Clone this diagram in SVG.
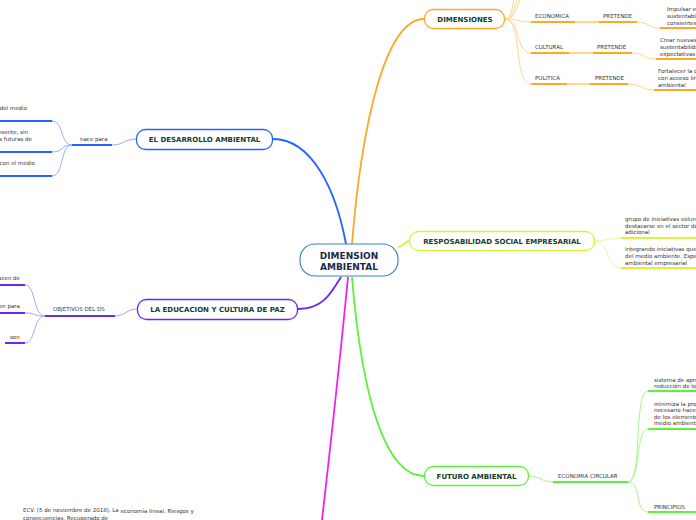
<svg xmlns="http://www.w3.org/2000/svg" width="696" height="520" viewBox="0 0 696 520">
<style>
.t{font-family:"DejaVu Sans","Verdana",sans-serif;font-size:5.5px;fill:#333}
.n{font-family:"DejaVu Sans","Verdana",sans-serif;font-size:7px;font-weight:bold;fill:#123d31;text-anchor:middle}
.c{font-family:"DejaVu Sans","Verdana",sans-serif;font-size:9px;font-weight:bold;fill:#1b2a4a;text-anchor:middle}
path{fill:none}
.o{stroke:#ffa726}.ol{stroke:#ffd58f}
.b{stroke:#2962ff}.bl{stroke:#8fb0ff}
.p{stroke:#6a28f0}.pl{stroke:#b69cff}
.y{stroke:#d6f53a}.yl{stroke:#ebfa9a}
.g{stroke:#5cf23a}.gl{stroke:#a9f58d}
.m{stroke:#ee22ee}
.u{stroke-width:2}.l{stroke-width:1}.k{stroke-width:1.8}
</style>
<rect width="696" height="520" fill="#fff"/>
<g id="connectors">
  <path class="b k" d="M273,139 C312,139 336,190 346,244"/>
  <path class="o k" d="M352,244 C362,120 386,19 424,19"/>
  <path class="p k" d="M298,309 C322,309 330,295 341,277"/>
  <path class="m k" d="M348,277 C340,360 330,450 322,520"/>
  <path class="g k" d="M352,277 C362,400 386,476 424,476"/>
  <path class="y k" d="M398,247 C403,247 404,241 410,241"/>
  <path class="ol l" d="M505,19 C511,19 512,8 514,0"/>
  <path class="ol l" d="M505,19 C513,19 514,8 517,0"/>
  <path class="ol l" d="M505,19 C515,19 516,8 520,0"/>
  <path class="ol l" d="M505,19 C518,19 518,22 531,22"/>
  <path class="ol l" d="M505,19 C521,19 515,53 531,53"/>
  <path class="ol l" d="M505,19 C523,19 513,84 531,84"/>
  <path class="o u" d="M531,22 H575"/><path class="ol u" d="M575,22 H599"/><path class="o u" d="M599,22 H637"/>
  <path class="ol l" d="M637,22 C650,22 647,28 660,28"/><path class="o u" d="M660,28 H696"/>
  <path class="o u" d="M531,53 H569"/><path class="ol u" d="M569,53 H593"/><path class="o u" d="M593,53 H632"/>
  <path class="ol l" d="M632,53 C645,53 643,59 656,59"/><path class="o u" d="M656,59 H696"/>
  <path class="o u" d="M531,84 H567"/><path class="ol u" d="M567,84 H590"/><path class="o u" d="M590,84 H628"/>
  <path class="ol l" d="M628,84 C641,84 641,90 654,90"/><path class="o u" d="M654,90 H696"/>
  <path class="bl l" d="M137,139 C124,139 124,145 112,145"/>
  <path class="b u" d="M72,145 H112"/>
  <path class="bl l" d="M72,145 C60,145 64,121 52,121"/>
  <path class="bl l" d="M72,145 C60,145 64,152 52,152"/>
  <path class="bl l" d="M72,145 C60,145 64,176 52,176"/>
  <path class="b u" d="M0,121 H52"/><path class="b u" d="M0,152 H52"/><path class="b u" d="M0,176 H52"/>
  <path class="pl l" d="M137,309 C126,309 126,316 115,316"/>
  <path class="p u" d="M45,316 H115"/>
  <path class="pl l" d="M45,316 C33,316 36,285 25,285"/>
  <path class="pl l" d="M45,316 C33,316 36,313 25,313"/>
  <path class="pl l" d="M45,316 C33,316 36,343 25,343"/>
  <path class="p u" d="M0,285 H25"/><path class="p u" d="M0,313 H25"/><path class="p u" d="M5,343 H25"/>
  <path class="yl l" d="M594,241 C607,241 608,238 621,238"/>
  <path class="yl l" d="M594,241 C610,241 606,268 621,268"/>
  <path class="y u" d="M621,238 H696"/><path class="y u" d="M621,268 H696"/>
  <path class="gl l" d="M529,476 C541,476 541,482 553,482"/>
  <path class="g u" d="M553,482 H628"/>
  <path class="gl l" d="M628,482 C643,482 633,391 648,391"/>
  <path class="gl l" d="M628,482 C641,482 635,429 648,429"/>
  <path class="gl l" d="M628,482 C642,482 634,512 648,512"/>
  <path class="g u" d="M648,391 H696"/><path class="g u" d="M648,429 H696"/><path class="g u" d="M648,512 H696"/>
</g>
<g id="central">
  <rect x="300" y="244" width="98" height="32" rx="15" fill="#fff" stroke="#3a86c8" stroke-width="1.2"/>
  <text class="c" x="349" y="259">DIMENSION</text>
  <text class="c" x="349" y="270">AMBIENTAL</text>
</g>
<g id="dimensiones">
  <rect x="424.5" y="9.5" width="80" height="19" rx="9" fill="#fff" stroke="#ffa726" stroke-width="1.3"/>
  <text class="n" x="465" y="21.5">DIMENSIONES</text>
</g>
<g id="economica"><text class="t" x="535" y="18">ECONOMICA</text></g>
<g id="economica-pretende"><text class="t" x="603" y="18">PRETENDE</text></g>
<g id="economica-texto">
  <text class="t" x="667" y="11">Impulsar el</text>
  <text class="t" x="667" y="18">sustentable</text>
  <text class="t" x="667" y="24.5">consientes</text>
</g>
<g id="cultural"><text class="t" x="535" y="49">CULTURAL</text></g>
<g id="cultural-pretende"><text class="t" x="597" y="49">PRETENDE</text></g>
<g id="cultural-texto">
  <text class="t" x="660" y="42">Crear nuevas</text>
  <text class="t" x="660" y="49">sustentabilidad</text>
  <text class="t" x="660" y="55.5">expectativas</text>
</g>
<g id="politica"><text class="t" x="535" y="80">POLITICA</text></g>
<g id="politica-pretende"><text class="t" x="595" y="80">PRETENDE</text></g>
<g id="politica-texto">
  <text class="t" x="658" y="73">Fortalecer la c</text>
  <text class="t" x="658" y="80">con acceso lin</text>
  <text class="t" x="658" y="87">ambiental</text>
</g>
<g id="desarrollo">
  <rect x="136.5" y="129.5" width="136" height="20" rx="9" fill="#fff" stroke="#2962ff" stroke-width="1.3"/>
  <text class="n" x="204.5" y="142">EL DESARROLLO AMBIENTAL</text>
</g>
<g id="nace-para"><text class="t" x="80" y="141">nace para</text></g>
<g id="desarrollo-1"><text class="t" x="27" y="110" text-anchor="end">del medio</text></g>
<g id="desarrollo-2">
  <text class="t" x="28" y="134" text-anchor="end">esente, sin</text>
  <text class="t" x="32" y="140.5" text-anchor="end">s futuras de</text>
</g>
<g id="desarrollo-3"><text class="t" x="35" y="165" text-anchor="end">con el medio</text></g>
<g id="educacion">
  <rect x="137.5" y="299.5" width="160" height="20" rx="9" fill="#fff" stroke="#6a28f0" stroke-width="1.3"/>
  <text class="n" x="217.5" y="312">LA EDUCACION Y CULTURA DE PAZ</text>
</g>
<g id="objetivos"><text class="t" x="53" y="311">OBJETIVOS DEL DS</text></g>
<g id="educacion-1"><text class="t" x="20" y="280" text-anchor="end">acen de</text></g>
<g id="educacion-2"><text class="t" x="20" y="308" text-anchor="end">en para</text></g>
<g id="educacion-3"><text class="t" x="10" y="339">son</text></g>
<g id="rse">
  <rect x="409.5" y="231.5" width="185" height="19" rx="9" fill="#fff" stroke="#d6f53a" stroke-width="1.3"/>
  <text class="n" x="502" y="244">RESPOSABILIDAD SOCIAL EMPRESARIAL</text>
</g>
<g id="rse-1">
  <text class="t" x="625" y="221">grupo de iniciativas volun</text>
  <text class="t" x="625" y="228">destacarse en el sector do</text>
  <text class="t" x="625" y="234">adicional</text>
</g>
<g id="rse-2">
  <text class="t" x="625" y="251">integrando iniciativas que</text>
  <text class="t" x="625" y="258">del medio ambiente. Espe</text>
  <text class="t" x="625" y="265">ambiental empresarial</text>
</g>
<g id="futuro">
  <rect x="424.5" y="466.5" width="104" height="19" rx="9" fill="#fff" stroke="#5cf23a" stroke-width="1.3"/>
  <text class="n" x="476.5" y="479">FUTURO AMBIENTAL</text>
</g>
<g id="economia-circular"><text class="t" x="558" y="478">ECONOMIA CIRCULAR</text></g>
<g id="ec-1">
  <text class="t" x="654" y="382">sistema de apro</text>
  <text class="t" x="654" y="388">reducción de lo</text>
</g>
<g id="ec-2">
  <text class="t" x="654" y="406">minimiza la pro</text>
  <text class="t" x="654" y="412">necesario hacer</text>
  <text class="t" x="654" y="419">de los elementos</text>
  <text class="t" x="654" y="425">medio ambiente</text>
</g>
<g id="principios"><text class="t" x="654" y="509">PRINCIPIOS</text></g>
<g id="referencia">
  <text class="t" x="23" y="512">ECV. (5 de noviembre de 2018). La <tspan dy="1">economía lineal. Riesgos y</tspan></text>
  <text class="t" x="23" y="520">consecuencias. Recuperado de</text>
</g>
</svg>
